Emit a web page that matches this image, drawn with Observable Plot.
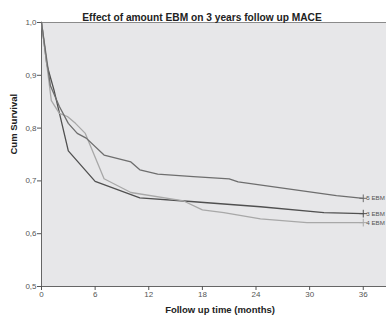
<!DOCTYPE html>
<html>
<head>
<meta charset="utf-8">
<script src="https://cdn.jsdelivr.net/npm/d3@7"></script>
<script src="https://cdn.jsdelivr.net/npm/@observablehq/plot@0.6"></script>
<style>
  html, body { margin: 0; padding: 0; background: #fff; }
  svg { display: block; }
</style>
</head>
<body>
<div id="chart"></div>
<script>
// Series: follow-up months and cumulative survival
const months3 = [0, 0.6, 1.4, 3, 6, 11, 16.7, 24.5, 31.6, 36];
const surv3   = [1.0, 0.92, 0.872, 0.757, 0.699, 0.668, 0.661, 0.651, 0.640, 0.638];

const months4 = [0, 1.1, 2, 2.9, 3.8, 4.9, 7, 10, 15.9, 18, 20.4, 24.5, 29.7, 36];
const surv4   = [1.0, 0.852, 0.828, 0.822, 0.809, 0.790, 0.704, 0.678, 0.662, 0.645, 0.640, 0.628, 0.621, 0.621];

const months5 = [0, 1, 2, 3, 4, 5, 7, 10, 11, 13, 17, 21, 22, 33, 36];
const surv5   = [1.0, 0.88, 0.841, 0.809, 0.790, 0.781, 0.749, 0.736, 0.721, 0.713, 0.708, 0.704, 0.698, 0.672, 0.667];

const seriesNames = ["3 EBM", "4 EBM", "5 EBM"];
const seriesColors = ["#505050", "#a8a8a8", "#6e6e6e"];
const xTicks = [0, 6, 12, 18, 24, 30, 36];
const yTicks = [0.5, 0.6, 0.7, 0.8, 0.9, 1.0];

const title = "Effect of amount EBM on 3 years follow up MACE";
const xLabel = "Follow up time (months)";
const yLabel = "Cum Survival";

const rows = [];
[[months3, surv3], [months4, surv4], [months5, surv5]].forEach(([ms, ss], i) => {
  ms.forEach((m, j) => rows.push({group: seriesNames[i], month: m, surv: ss[j]}));
});
const ends = seriesNames.map((g, i) => {
  const r = rows.filter(d => d.group === g);
  return r[r.length - 1];
});
const colorOf = g => seriesColors[seriesNames.indexOf(g)];

const fmt = d => d.toFixed(1).replace(".", ",");

const chart = Plot.plot({
  width: 386,
  height: 329,
  marginLeft: 41,
  marginRight: 0,
  marginTop: 22,
  marginBottom: 43,
  style: {fontFamily: "Liberation Sans, Arial, sans-serif", background: "#fff"},
  x: {domain: [0, 38.6]},
  y: {domain: [0.5, 1.0]},
  marks: [
    Plot.frame({fill: "#e7e7e9", stroke: null}),
    Plot.ruleY([1.0], {stroke: "#8a8a8a", strokeWidth: 1.2}),
    Plot.ruleX([0], {stroke: "#666", strokeWidth: 1}),
    Plot.ruleY([0.5], {stroke: "#666", strokeWidth: 1}),
    Plot.axisX({ticks: xTicks, tickSize: 4, tickFormat: d => String(d), label: null, fontSize: 8, color: "#555", stroke: "#555", tickPadding: 1}),
    Plot.axisY({ticks: yTicks, tickSize: 4, tickFormat: fmt, label: null, fontSize: 8, color: "#555", stroke: "#555", tickPadding: 1}),
    Plot.line(rows, {x: "month", y: "surv", z: "group", stroke: d => colorOf(d.group), strokeWidth: 1.3}),
    Plot.dot(ends, {x: "month", y: "surv", symbol: "plus", r: 2.6, stroke: d => colorOf(d.group), strokeWidth: 1}),
    Plot.text(ends, {x: "month", y: "surv", text: "group", textAnchor: "start", dx: 3, fontSize: 6.2, fill: "#555"}),
    Plot.text([title], {frameAnchor: "top", dx: -12, dy: -9, fontSize: 10.2, fontWeight: "bold", fill: "#222"}),
    Plot.text([xLabel], {frameAnchor: "bottom", dx: 6, dy: 26, fontSize: 9.5, fontWeight: "bold", fill: "#222"}),
    Plot.text([yLabel], {frameAnchor: "left", dx: -28, rotate: -90, fontSize: 9.5, fontWeight: "bold", fill: "#222"})
  ]
});
document.getElementById("chart").append(chart);
</script>
</body>
</html>
